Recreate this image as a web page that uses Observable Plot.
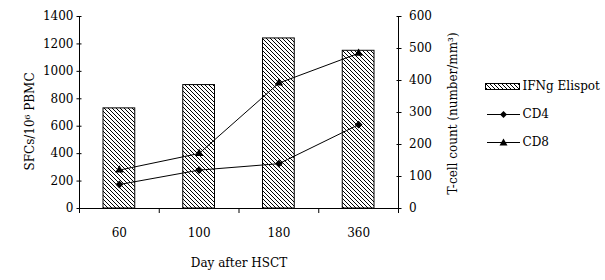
<!DOCTYPE html>
<html>
<head>
<meta charset="utf-8">
<script src="https://cdn.jsdelivr.net/npm/d3@7"></script>
<script src="https://cdn.jsdelivr.net/npm/@observablehq/plot@0.6"></script>
<style>
  html, body { margin: 0; padding: 0; background: #fff; }
  #wrap { position: relative; width: 605px; height: 280px; }
  #legend { position: absolute; left: 480px; top: 70px; }
</style>
</head>
<body>
<div id="wrap"><div id="chart"></div><div id="legend"></div></div>
<script>
const days = ["60", "100", "180", "360"];
const elispot = [730, 900, 1240, 1150];
const cd4 = [75, 120, 140, 262];
const cd8 = [120, 172, 392, 485];
const leftTicks = [0, 200, 400, 600, 800, 1000, 1200, 1400];
const rightTicks = [0, 100, 200, 300, 400, 500, 600];
const seriesNames = ["IFNg Elispot", "CD4", "CD8"];
const leftLabel = "SFCs/10⁶ PBMC";
const rightLabel = "T-cell count (number/mm³)";
const xLabel = "Day after HSCT";

const k = 1400 / 600; // right-axis to left-axis conversion
const rows = days.map((d, i) => ({i, day: d, elispot: elispot[i], cd4: cd4[i], cd8: cd8[i]}));
const FONT = "DejaVu Serif, Liberation Serif, serif";
const legendDy = [70, 98, 126];

const chart = Plot.plot({
  width: 605,
  height: 280,
  marginLeft: 79,
  marginRight: 207,
  marginTop: 16,
  marginBottom: 72,
  style: {fontFamily: FONT, fontSize: "12px", color: "#000", background: "#fff"},
  x: {type: "linear", domain: [0, 4], axis: null},
  y: {domain: [0, 1400], axis: null},
  marks: [
    Plot.rectY(rows, {x1: d => d.i, x2: d => d.i + 1, y1: 0, y2: "elispot", insetLeft: 24, insetRight: 24, fill: "url(#hatch)", stroke: "#000", strokeWidth: 1}),
    Plot.ruleX([0, 4], {stroke: "#000"}),
    Plot.ruleY([0], {stroke: "#000"}),
    Plot.axisX({ticks: [0, 1, 2, 3, 4], tickSize: 5, tickFormat: () => "", stroke: "#000"}),
    Plot.axisY({anchor: "left", ticks: leftTicks, tickSize: 5, dx: 2.5, tickPadding: 3.5, tickFormat: d => String(d), label: null}),
    Plot.axisY({anchor: "right", ticks: rightTicks.map(v => v * k), tickSize: 5, dx: -2.5, tickPadding: 8, tickFormat: d => String(Math.round(d / k)), label: null}),
    Plot.text(rows, {x: d => d.i + 0.5, y: 0, text: "day", dy: 25}),
    Plot.text([xLabel], {frameAnchor: "bottom", dy: 58}),
    Plot.text([leftLabel], {frameAnchor: "left", textAnchor: "middle", dx: -49, dy: 9, rotate: -90}),
    Plot.text([rightLabel], {frameAnchor: "right", textAnchor: "middle", dx: 55, dy: 1, rotate: -90}),
    Plot.line(rows, {x: d => d.i + 0.5, y: d => d.cd4 * k, stroke: "#000", strokeWidth: 1}),
    Plot.line(rows, {x: d => d.i + 0.5, y: d => d.cd8 * k, stroke: "#000", strokeWidth: 1}),
    Plot.dot(rows, {x: d => d.i + 0.5, y: d => d.cd4 * k, symbol: "diamond2", r: 3.5, fill: "#000"}),
    Plot.dot(rows, {x: d => d.i + 0.5, y: d => d.cd8 * k, symbol: "triangle2", r: 4, fill: "#000"}),
    ...seriesNames.map((name, j) => Plot.text([name], {frameAnchor: "top-right", textAnchor: "start", lineAnchor: "middle", dx: 124, dy: legendDy[j]}))
  ]
});

// hatch pattern definition
const ns = "http://www.w3.org/2000/svg";
const defs = document.createElementNS(ns, "defs");
defs.innerHTML = `<pattern id="hatch" patternUnits="userSpaceOnUse" width="4" height="4">
  <rect width="4" height="4" fill="#fff"/>
  <path d="M-1,-1L5,5M3,-1L5,1M-1,3L1,5" stroke="#000" stroke-width="1"/>
</pattern>`;
chart.insertBefore(defs, chart.firstChild);
document.getElementById("chart").appendChild(chart);

// legend swatches (offset: left 480, top 70)
document.getElementById("legend").innerHTML = `<svg width="42" height="90">
  <rect x="5.5" y="13.5" width="34" height="6" fill="url(#hatch)" stroke="#000"/>
  <line x1="7" x2="40" y1="44.5" y2="44.5" stroke="#000"/><path d="M23.5,41L27,44.5L23.5,48L20,44.5Z" fill="#000"/>
  <line x1="7" x2="40" y1="72.5" y2="72.5" stroke="#000"/><path d="M23.5,68.5L27.5,75.5L19.5,75.5Z" fill="#000"/>
</svg>`;
</script>
</body>
</html>
